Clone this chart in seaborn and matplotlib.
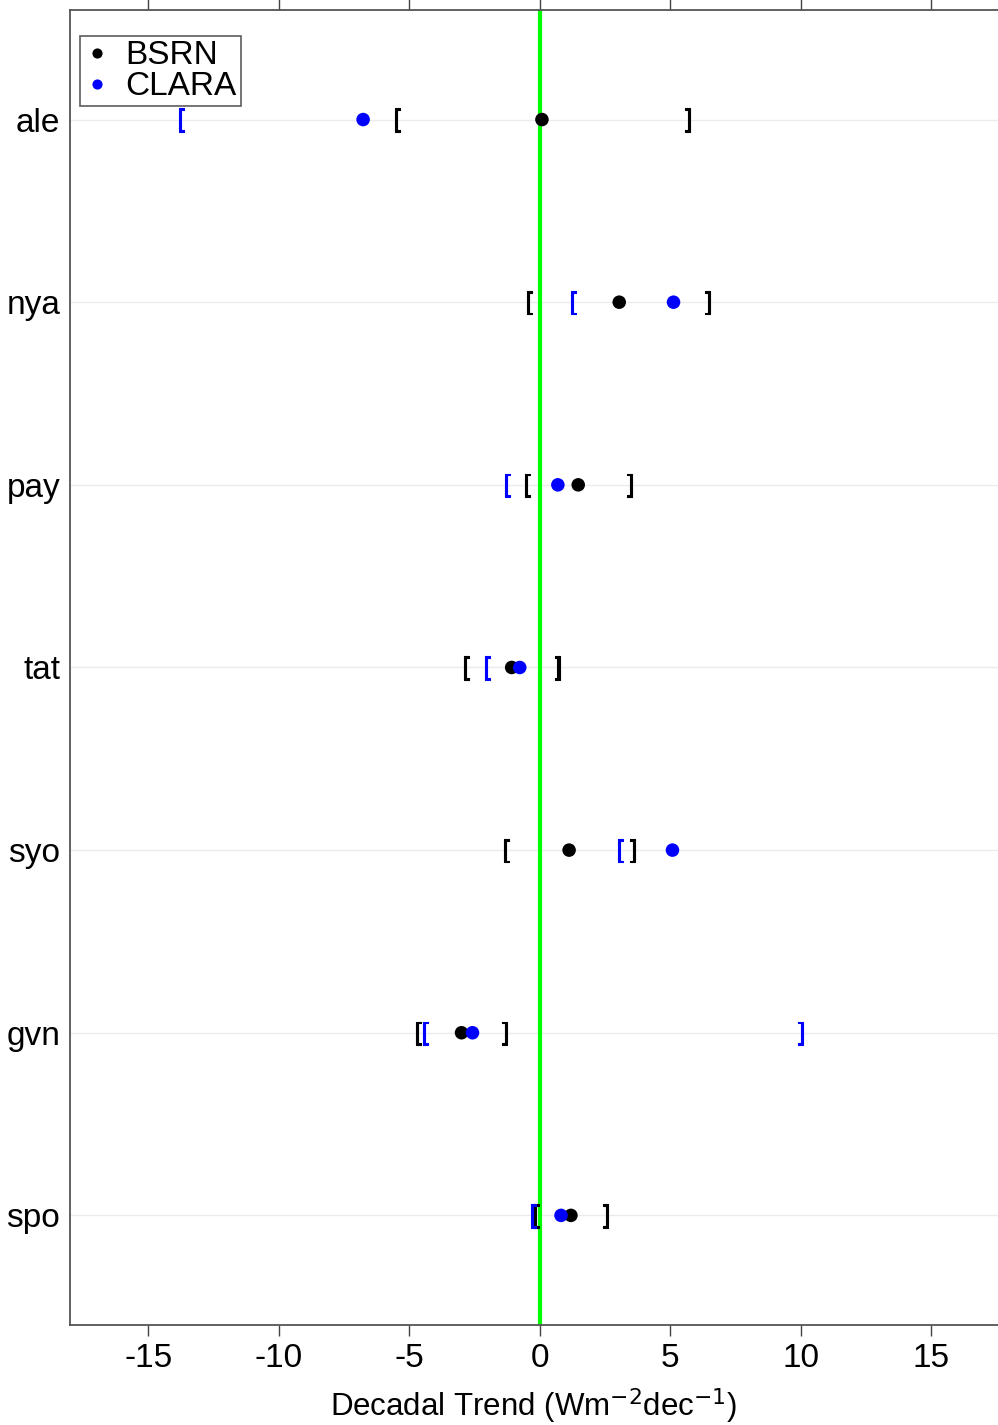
import numpy as np
import pandas as pd
import matplotlib
matplotlib.use("Agg")
import matplotlib.pyplot as plt
import matplotlib.patheffects as pe
import seaborn as sns

# Stations, top to bottom
stations = ["ale", "nya", "pay", "tat", "syo", "gvn", "spo"]

# Decadal trends (W m-2 dec-1) and confidence bounds
bsrn_trend = [0.08, 3.04, 1.47, -1.08, 1.12, -3.00, 1.19]
bsrn_lo = [-5.50, -0.42, -0.50, -2.85, -1.31, -4.69, -0.15]
bsrn_hi = [5.70, 6.46, 3.46, 0.69, 3.58, -1.31, 2.54]

clara_trend = [-6.77, 5.12, 0.69, -0.77, 5.08, -2.58, 0.81]
clara_lo = [-13.77, 1.27, -1.27, -2.04, 3.04, -4.42, -0.27]
clara_hi = [np.nan, np.nan, np.nan, np.nan, np.nan, 10.0, np.nan]

sources = ["BSRN", "CLARA"]
colors = {"BSRN": "black", "CLARA": "#0000ff"}

n = len(stations)
ypos = np.arange(n, 0, -1)

df = pd.concat([
    pd.DataFrame({"station": stations, "y": ypos, "trend": bsrn_trend,
                  "lo": bsrn_lo, "hi": bsrn_hi, "source": "BSRN"}),
    pd.DataFrame({"station": stations, "y": ypos, "trend": clara_trend,
                  "lo": clara_lo, "hi": clara_hi, "source": "CLARA"}),
], ignore_index=True)

sns.set_theme(style="white")
plt.rcParams["font.family"] = ["Liberation Sans Narrow", "Liberation Sans", "DejaVu Sans"]
plt.rcParams["text.color"] = "black"
plt.rcParams["xtick.color"] = "#444444"
plt.rcParams["xtick.labelcolor"] = "black"
plt.rcParams["ytick.labelcolor"] = "black"
plt.rcParams["axes.labelcolor"] = "black"

fig = plt.figure(figsize=(9.98, 14.25), dpi=100)
ax = fig.add_axes([0.0701, 0.0702, 0.9299, 0.9228])

# horizontal guide per station
for y in ypos:
    ax.axhline(y, color="#ebebeb", lw=1.0, zorder=0)

# zero reference
ax.axvline(0, color="#00ff00", lw=3, zorder=1)

# confidence bounds as bracket glyphs
def bracket(x, y, glyph, c):
    t = ax.text(x, y, glyph, color=c, fontsize=18, ha="center", va="center",
                zorder=2, family=["Liberation Sans", "DejaVu Sans"])
    t.set_path_effects([pe.withStroke(linewidth=0.8, foreground=c)])

for _, r in df.iterrows():
    c = colors[r["source"]]
    if np.isfinite(r["lo"]):
        bracket(r["lo"], r["y"], "[", c)
    if np.isfinite(r["hi"]):
        bracket(r["hi"], r["y"], "]", c)

sns.scatterplot(data=df, x="trend", y="y", hue="source", hue_order=sources,
                palette=colors, s=95, edgecolor="none", ax=ax, zorder=3)

ax.set_xlim(-18.0, 17.55)
ax.set_ylim(0.4, n + 0.6)
ax.set_yticks(ypos)
ax.set_yticklabels(stations)
ax.set_xticks([-15, -10, -5, 0, 5, 10, 15])
ax.set_xticklabels(["-15", "-10", "-5", "0", "5", "10", "15"])

ax.tick_params(axis="x", which="both", bottom=True, top=True, direction="out",
               length=8, width=1, color="#444444", labelsize=24, pad=5)
ax.tick_params(axis="y", left=False, length=0, labelsize=24, pad=7)

for side in ["left", "bottom", "top"]:
    ax.spines[side].set_visible(True)
    ax.spines[side].set_color("#555555")
    ax.spines[side].set_linewidth(1.3)
ax.spines["right"].set_visible(False)

ax.set_ylabel("")
ax.set_xlabel(r"Decadal Trend (Wm$^{-2}$dec$^{-1}$)", fontsize=22.5, labelpad=9)

leg = ax.legend(loc="upper left", bbox_to_anchor=(0.0105, 0.98), fontsize=24,
                frameon=True, fancybox=False, handletextpad=0.45,
                borderpad=0.12, labelspacing=0.0, handlelength=0.8,
                borderaxespad=0, markerscale=0.75)
leg.get_frame().set_edgecolor("#333333")
leg.get_frame().set_linewidth(1.2)
leg.set_title(None)

fig.savefig("out.png", dpi=100)
